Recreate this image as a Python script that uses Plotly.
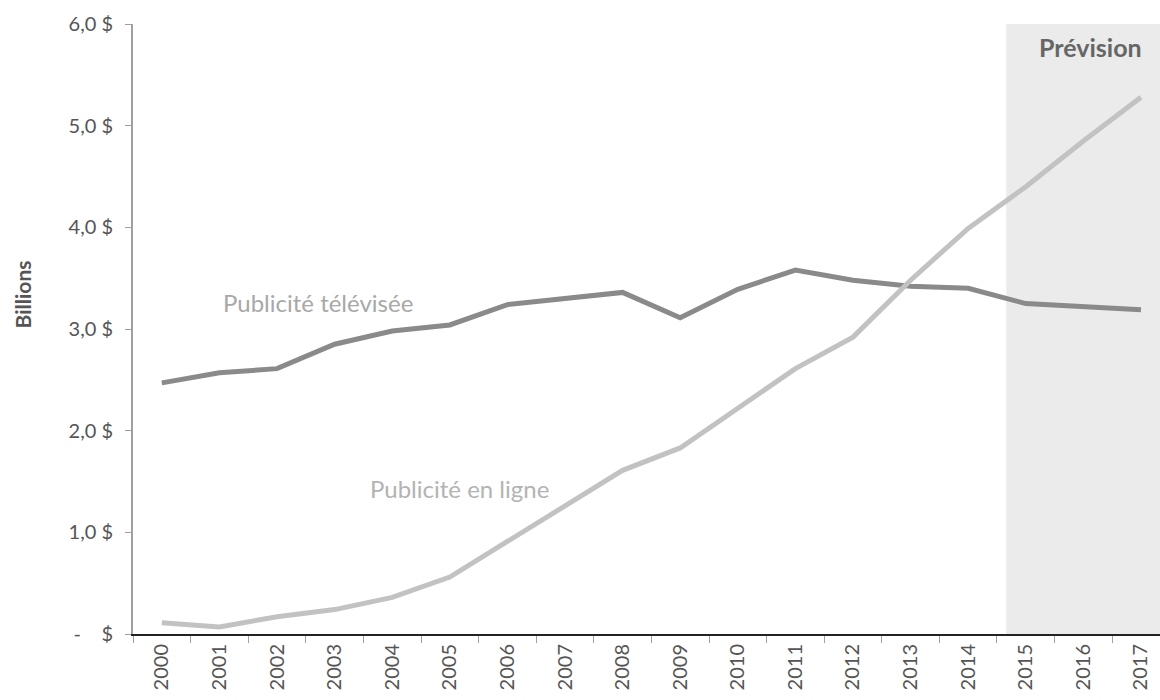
import plotly.graph_objects as go

years = [str(y) for y in range(2000, 2018)]
tv = [2.47, 2.57, 2.61, 2.85, 2.98, 3.04, 3.24, 3.30, 3.36, 3.11, 3.39, 3.58, 3.48, 3.42, 3.40, 3.25, 3.22, 3.19]
online = [0.11, 0.07, 0.17, 0.24, 0.36, 0.56, 0.91, 1.26, 1.61, 1.83, 2.22, 2.61, 2.92, 3.48, 3.99, 4.40, 4.85, 5.28]
ytick_vals = [0, 1, 2, 3, 4, 5, 6]
ytick_text = ["-\u00a0\u00a0\u00a0\u00a0$", "1,0\u00a0$", "2,0\u00a0$", "3,0\u00a0$", "4,0\u00a0$", "5,0\u00a0$", "6,0\u00a0$"]

FONT = "Lato, 'Open Sans', sans-serif"

fig = go.Figure()
fig.add_shape(type="rect", xref="x", yref="y", x0=14.66, x1=18, y0=0, y1=6,
              fillcolor="#ebebeb", line_width=0, layer="below")
fig.add_trace(go.Scatter(x=years, y=tv, mode="lines", line=dict(color="#8a8a8a", width=5),
                         name="Publicité télévisée", showlegend=False))
fig.add_trace(go.Scatter(x=years, y=online, mode="lines", line=dict(color="#c2c2c2", width=5),
                         name="Publicité en ligne", showlegend=False))

fig.add_annotation(x=2.71, y=3.26, xref="x", yref="y", text="Publicité télévisée", showarrow=False,
                   font=dict(family=FONT, size=24, color="#a8a8a8"))
fig.add_annotation(x=5.16, y=1.43, xref="x", yref="y", text="Publicité en ligne", showarrow=False,
                   font=dict(family=FONT, size=24, color="#b3b3b3"))
fig.add_annotation(x=16.13, y=5.77, xref="x", yref="y", text="<b>Prévision</b>", showarrow=False,
                   font=dict(family=FONT, size=25, color="#666666"))
fig.add_annotation(x=0, y=3.34, xref="paper", yref="y", text="<b>Billions</b>", showarrow=False,
                   textangle=-90, xanchor="center", xshift=-111,
                   font=dict(family=FONT, size=21, color="#555555"))

fig.update_layout(
    width=1160, height=700,
    margin=dict(l=133, r=0, t=24, b=66),
    plot_bgcolor="white", paper_bgcolor="white",
    font=dict(family=FONT, size=20, color="#555555"),
    xaxis=dict(type="category", range=[-0.5, 17.33], tickson="boundaries",
               ticks="outside", ticklen=7, tickcolor="#a0a0a0", tickangle=-90,
               showline=True, linecolor="#222222", linewidth=2, showgrid=False,
               tickfont=dict(family=FONT, size=20, color="#555555")),
    yaxis=dict(range=[0, 6], tickvals=ytick_vals, ticktext=ytick_text,
               ticks="outside", ticklen=6, tickcolor="#a0a0a0",
               showline=True, linecolor="#a0a0a0", linewidth=2, showgrid=False, zeroline=False,
               ticklabelstandoff=8,
               tickfont=dict(family=FONT, size=20, color="#555555")),
)

fig.write_html("out.html")
